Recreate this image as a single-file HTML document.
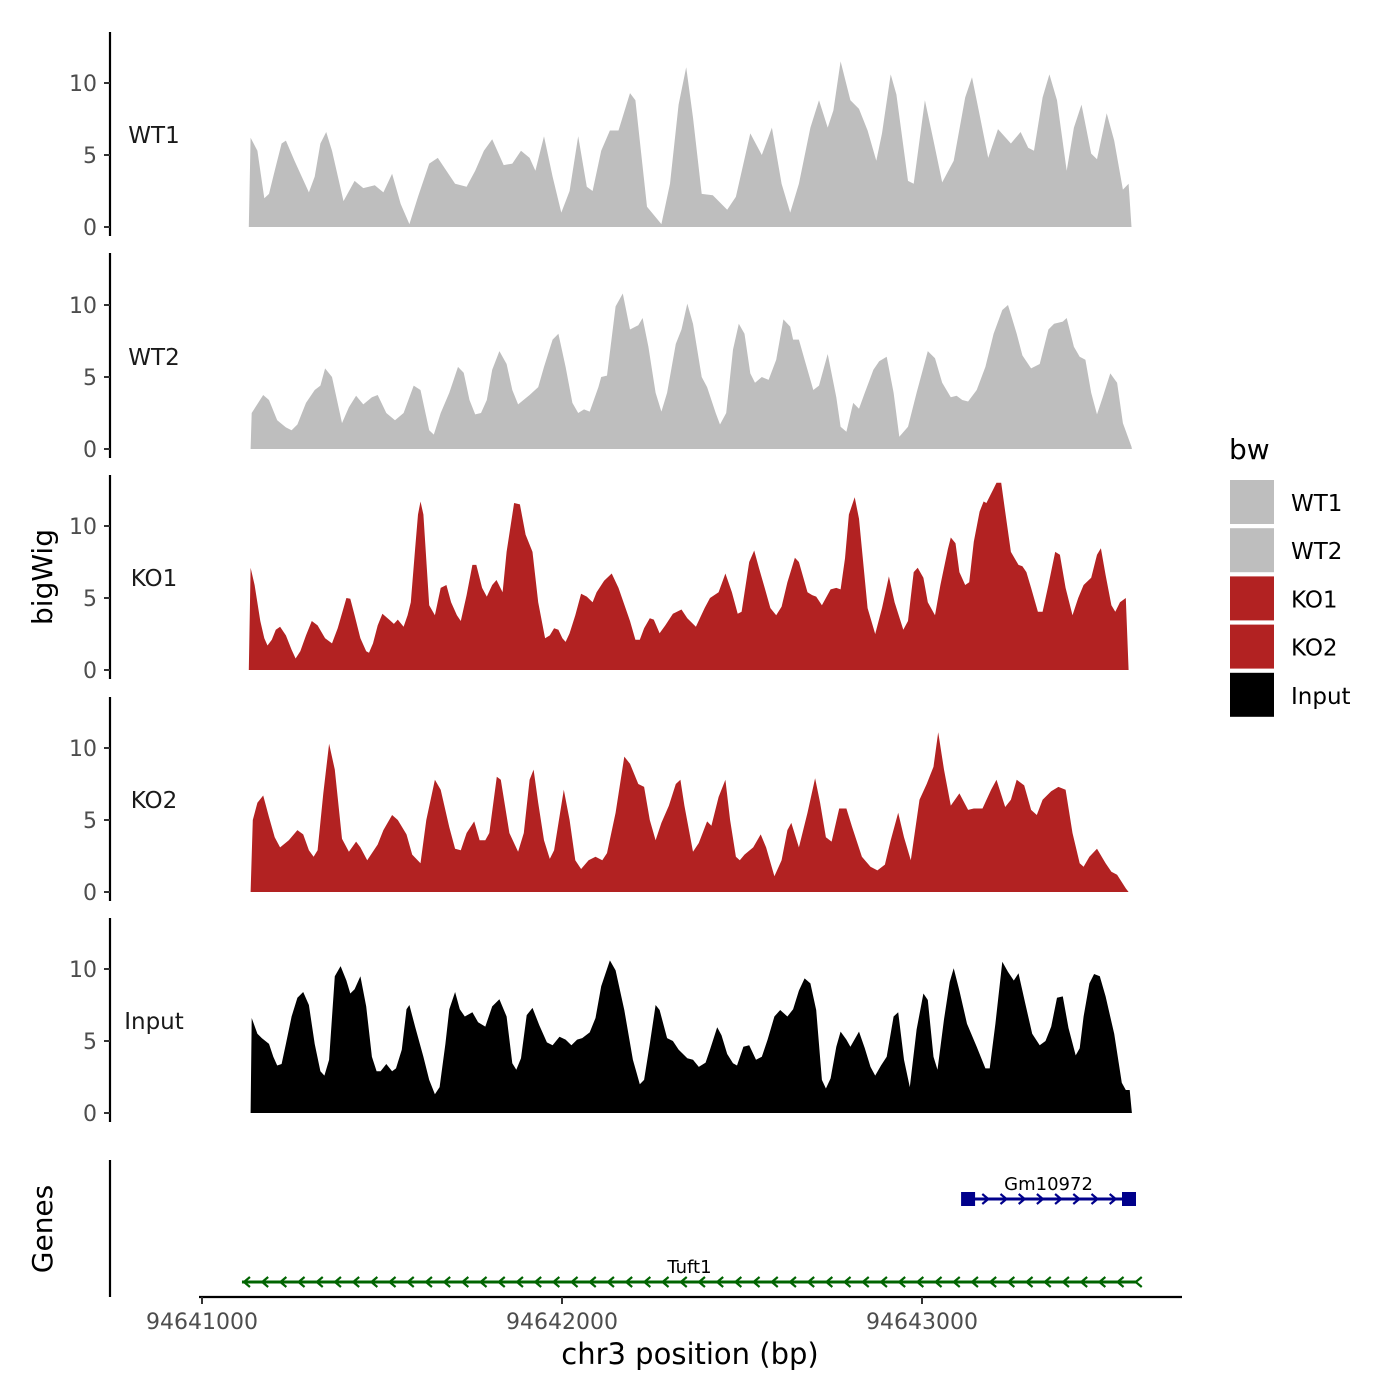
<!DOCTYPE html>
<html><head><meta charset="utf-8"><style>
html,body{margin:0;padding:0;background:#fff;}
svg{display:block;font-family:"DejaVu Sans","Liberation Sans",sans-serif;}
</style></head><body>
<svg id="chart" width="1400" height="1400" viewBox="0 0 1400 1400" xmlns="http://www.w3.org/2000/svg">
<rect width="1400" height="1400" fill="#fff"/>
<g id="tracks"></g>
<g id="genes"></g>
<g id="axes"></g>
<text x="0" y="0" transform="translate(52,577) rotate(-90)" text-anchor="middle" font-size="28" fill="#000">bigWig</text>
<text x="0" y="0" transform="translate(52,1229) rotate(-90)" text-anchor="middle" font-size="28" fill="#000">Genes</text>
<text x="690" y="1364" text-anchor="middle" font-size="29" fill="#000">chr3 position (bp)</text>
<g id="legend"></g>
</svg>
<script>
// ---- data (positions: bp offsets from 94641000) ----
const trackNames = ["WT1","WT2","KO1","KO2","Input"];
const trackColors = ["#bebebe","#bebebe","#b22222","#b22222","#000000"];
const yTicks = [0,5,10];
const xTicks = [94641000,94642000,94643000];
const xTickLabels = ["94641000","94642000","94643000"];

const wt1Pos = [130,135,154,173,186,202,221,233,257,297,313,329,345,361,393,424,448,480,504,528,552,576,600,631,655,679,703,735,759,783,806,838,862,886,910,926,950,974,998,1021,1045,1069,1085,1109,1133,1157,1189,1204,1236,1276,1300,1324,1345,1364,1388,1419,1459,1483,1523,1555,1583,1610,1634,1658,1690,1714,1738,1754,1774,1801,1825,1849,1873,1889,1913,1929,1961,1977,2008,2032,2056,2088,2120,2139,2160,2184,2211,2247,2274,2295,2311,2335,2354,2375,2402,2422,2443,2470,2486,2513,2534,2558,2574,2582];
const wt1Val = [0,6.2,5.3,2.0,2.3,3.9,5.8,6.0,4.6,2.4,3.5,5.8,6.6,5.3,1.8,3.2,2.7,2.9,2.4,3.7,1.6,0.2,2.1,4.4,4.8,3.9,3.0,2.8,3.9,5.3,6.1,4.3,4.4,5.3,4.8,3.9,6.3,3.5,1.0,2.5,6.3,2.8,2.5,5.3,6.7,6.7,9.3,8.8,1.4,0.2,3.0,8.5,11.1,7.6,2.3,2.2,1.2,2.1,6.5,5.0,6.9,3.0,1.0,3.0,6.9,8.8,6.9,8.1,11.5,8.8,8.2,6.7,4.6,6.5,10.6,9.2,3.2,3.0,8.8,6.0,3.1,4.6,9.0,10.4,7.8,4.8,6.8,5.8,6.6,5.5,5.3,9.0,10.6,8.8,3.9,6.9,8.5,5.1,4.7,7.9,6.0,2.6,3.0,0];

const wt2Pos = [135,138,170,186,209,233,249,265,289,313,329,342,361,389,408,428,448,472,488,512,536,560,588,607,631,644,663,687,711,727,743,759,775,791,806,826,846,862,878,910,934,950,974,990,1010,1029,1045,1061,1077,1101,1109,1125,1149,1169,1189,1212,1224,1240,1260,1276,1292,1316,1332,1348,1364,1388,1403,1427,1439,1456,1475,1491,1507,1523,1536,1555,1574,1595,1615,1634,1642,1658,1674,1698,1714,1738,1762,1774,1790,1809,1825,1841,1865,1881,1902,1921,1937,1961,1985,2016,2036,2056,2080,2096,2112,2128,2152,2176,2199,2223,2239,2263,2279,2303,2327,2351,2367,2391,2402,2422,2438,2454,2470,2486,2502,2523,2542,2558,2582,2583];
const wt2Val = [0,2.5,3.75,3.4,2.0,1.5,1.3,1.7,3.2,4.1,4.4,5.6,5.0,1.8,2.9,3.7,3.1,3.6,3.75,2.5,2.0,2.5,4.4,4.1,1.3,1.0,2.5,3.9,5.7,5.3,3.4,2.4,2.5,3.4,5.5,6.8,5.9,4.1,3.1,3.75,4.3,5.7,7.6,8.0,5.7,3.2,2.5,2.75,2.6,4.3,5.0,5.1,9.9,10.8,8.3,8.6,9.1,7.1,3.9,2.6,3.9,7.3,8.3,10.1,8.7,5.0,4.3,2.5,1.7,2.5,6.9,8.7,8.0,5.25,4.6,5.0,4.8,6.2,9.0,8.5,7.6,7.6,6.2,4.1,4.4,6.6,3.6,1.55,1.2,3.2,2.8,3.9,5.5,6.1,6.4,3.9,0.85,1.55,3.9,6.8,6.3,4.6,3.6,3.7,3.4,3.3,4.1,5.7,8.0,9.65,10.0,8.0,6.5,5.6,5.9,8.3,8.7,8.85,9.1,7.1,6.4,6.2,3.9,2.4,3.6,5.25,4.6,1.8,0.15,0];

const ko1Pos = [130,135,146,162,173,182,194,205,217,233,249,260,273,289,305,321,342,361,377,393,401,412,424,440,456,464,475,488,501,520,533,544,560,571,580,592,600,607,615,631,647,663,679,692,708,719,735,751,762,778,791,806,818,835,846,867,883,899,918,934,953,966,978,990,1001,1010,1021,1037,1053,1069,1085,1096,1117,1138,1157,1189,1204,1216,1228,1244,1255,1271,1287,1308,1332,1348,1372,1396,1411,1435,1454,1472,1488,1499,1520,1534,1547,1563,1579,1595,1610,1626,1647,1658,1682,1695,1706,1722,1746,1762,1774,1786,1797,1813,1825,1849,1870,1889,1908,1924,1948,1961,1977,1988,2004,2016,2036,2051,2072,2080,2093,2104,2120,2131,2144,2160,2171,2179,2199,2207,2220,2231,2247,2268,2279,2290,2303,2322,2335,2351,2370,2383,2399,2418,2434,2449,2470,2486,2497,2510,2526,2537,2550,2566,2574];
const ko1Val = [0,7.1,5.9,3.4,2.2,1.7,2.1,2.8,3.0,2.4,1.4,0.8,1.3,2.4,3.4,3.1,2.2,1.85,2.9,4.3,5.0,4.95,3.8,2.2,1.3,1.2,1.85,3.1,3.9,3.5,3.2,3.5,3.0,3.8,4.7,8.4,10.8,11.7,10.8,4.5,3.8,5.7,5.9,4.7,3.8,3.4,5.2,7.3,7.3,5.7,5.1,5.9,6.25,5.4,8.2,11.6,11.5,9.4,8.2,4.7,2.2,2.4,2.9,2.8,2.2,1.95,2.55,3.8,5.3,5.1,4.7,5.4,6.2,6.7,5.7,3.4,2.1,2.1,2.9,3.6,3.5,2.55,3.1,3.9,4.2,3.6,3.0,4.3,5.0,5.4,6.7,5.4,3.9,4.05,7.5,8.3,7.1,5.7,4.3,3.8,4.4,6.1,7.8,7.5,5.4,5.2,5.1,4.5,5.6,5.7,5.6,7.75,10.8,12.0,10.5,4.3,2.5,4.3,6.5,4.7,2.8,3.4,6.8,7.1,6.4,4.7,3.8,5.9,8.4,9.2,8.8,6.8,5.9,6.1,8.9,11.0,11.7,11.6,12.6,13.0,13.0,11.0,8.2,7.3,7.2,6.8,5.7,4.05,4.05,5.9,8.2,8.0,5.7,3.8,5.0,5.9,6.4,8.0,8.45,6.6,4.5,4.05,4.7,5.0,0];

const ko2Pos = [135,141,154,170,186,202,217,241,265,281,297,310,321,337,353,369,389,408,428,440,459,488,504,528,544,568,584,607,623,647,663,687,703,719,735,756,771,787,798,819,830,854,878,894,910,921,934,950,966,978,1005,1021,1037,1053,1074,1093,1112,1125,1149,1173,1189,1212,1228,1244,1260,1276,1297,1316,1329,1340,1364,1380,1403,1415,1435,1454,1467,1483,1494,1507,1531,1552,1567,1590,1610,1626,1637,1658,1682,1703,1717,1733,1749,1770,1790,1806,1833,1857,1876,1897,1913,1934,1950,1969,1993,2013,2032,2045,2061,2080,2104,2128,2144,2168,2192,2207,2231,2247,2263,2284,2303,2319,2335,2359,2379,2399,2418,2438,2449,2465,2486,2510,2526,2542,2566,2574];
const ko2Val = [0,5.0,6.2,6.7,5.2,3.8,3.1,3.6,4.3,4.0,2.9,2.45,2.9,6.85,10.3,8.5,3.7,2.8,3.5,3.1,2.2,3.3,4.3,5.35,5.0,4.0,2.6,2.0,5.0,7.8,7.1,4.5,3.0,2.9,4.1,4.9,3.6,3.6,4.1,8.0,7.8,4.1,2.8,4.1,7.8,8.5,6.2,3.6,2.3,2.9,7.1,5.0,2.2,1.6,2.2,2.45,2.2,2.7,5.5,9.4,8.9,7.5,7.3,5.0,3.6,4.8,6.0,7.5,7.8,6.0,2.8,3.4,4.9,4.6,6.6,7.8,5.0,2.45,2.2,2.6,3.1,4.0,3.1,1.1,2.2,4.3,4.8,3.1,5.5,7.9,6.2,3.8,3.5,5.8,5.8,4.5,2.45,1.75,1.5,1.9,3.6,5.5,3.8,2.2,6.4,7.5,8.7,11.1,8.5,6.0,6.85,5.7,5.8,5.8,7.1,7.8,5.9,6.4,7.8,7.4,5.7,5.35,6.4,7.0,7.3,7.1,4.1,2.0,1.75,2.45,3.0,2.0,1.4,1.2,0.25,0];

const inputPos = [135,138,154,166,186,198,209,221,233,249,265,281,297,313,329,340,353,369,385,401,412,424,440,456,472,485,496,512,528,539,555,568,576,592,615,631,647,660,676,687,703,716,730,751,767,787,806,826,846,862,873,886,902,918,937,958,974,993,1010,1026,1042,1056,1077,1093,1109,1133,1149,1173,1197,1216,1228,1244,1260,1271,1292,1308,1324,1348,1364,1380,1399,1411,1431,1443,1459,1475,1486,1504,1520,1539,1555,1571,1590,1606,1626,1642,1658,1674,1690,1706,1722,1733,1746,1762,1774,1790,1801,1825,1841,1857,1870,1886,1902,1921,1934,1950,1966,1985,2004,2016,2032,2043,2061,2077,2088,2104,2125,2152,2176,2188,2204,2223,2239,2255,2268,2287,2306,2327,2343,2359,2375,2391,2407,2427,2438,2449,2465,2478,2494,2510,2534,2555,2566,2577,2583];
const inputVal = [0,6.6,5.5,5.2,4.8,3.9,3.3,3.4,4.8,6.7,8.0,8.4,7.5,4.8,2.9,2.6,3.7,9.5,10.2,9.2,8.3,8.6,9.5,7.4,3.9,2.9,2.9,3.4,2.9,3.1,4.4,7.2,7.5,6.0,3.9,2.3,1.3,1.8,4.8,7.2,8.4,7.2,6.7,7.0,6.3,6.0,7.4,7.9,6.7,3.45,3.0,3.8,6.8,7.3,6.1,4.9,4.7,5.3,5.1,4.7,5.1,5.2,5.6,6.6,8.8,10.6,9.9,7.15,3.7,2.0,2.3,4.8,7.5,7.15,5.2,5.0,4.4,3.8,3.7,3.2,3.5,4.4,5.95,5.4,4.1,3.45,3.3,4.6,4.7,3.7,3.9,5.1,6.7,7.15,6.7,7.2,8.5,9.35,9.0,7.15,2.3,1.7,2.4,4.6,5.65,5.1,4.6,5.65,4.5,3.2,2.6,3.3,3.9,6.7,7.0,3.7,1.8,5.8,8.3,7.85,3.9,3.0,6.5,9.1,10.05,8.5,6.2,4.6,3.1,3.1,6.2,10.5,9.8,9.2,9.7,7.6,5.5,4.7,5.0,6.0,8.0,8.1,5.9,4.0,4.5,6.7,9.0,9.65,9.5,8.1,5.5,2.1,1.6,1.6,0];

const trackPos = [wt1Pos,wt2Pos,ko1Pos,ko2Pos,inputPos];
const trackVal = [wt1Val,wt2Val,ko1Val,ko2Val,inputVal];

// genes (bp)
const geneNames = ["Gm10972","Tuft1"];
const geneStart = [94643128,94641111];
const geneEnd = [94643575,94643597];
const geneStrand = ["+","-"];

// ---- scales ----
const NS = "http://www.w3.org/2000/svg";
const X0 = 94641000;
function xs(bp){ return 202 + (bp - X0) * 0.36; }
function xo(off){ return xs(X0 + off); }
const zeroY = [227,449,670,892,1113];
const panelTop = [32,253,475,697,918];
const PXU = 14.4;
function ys(i,v){ return zeroY[i] - v * PXU; }
function mk(tag, attrs, parent){
  const e = document.createElementNS(NS, tag);
  for (const k in attrs) e.setAttribute(k, attrs[k]);
  parent.appendChild(e); return e;
}
const gT = document.getElementById('tracks');
const gA = document.getElementById('axes');
const gG = document.getElementById('genes');
const gL = document.getElementById('legend');

trackNames.forEach((nm, i) => {
  const P = trackPos[i], V = trackVal[i];
  let d = "M" + xo(P[0]).toFixed(1) + "," + zeroY[i];
  for (let k = 0; k < P.length; k++) d += "L" + xo(P[k]).toFixed(1) + "," + ys(i, V[k]).toFixed(1);
  d += "L" + xo(P[P.length-1]).toFixed(1) + "," + zeroY[i] + "Z";
  const p = mk('path', {d: d, fill: trackColors[i], stroke: 'none'}, gT);
  
  
  const ax = mk('line', {x1:110, x2:110, y1:panelTop[i], y2:zeroY[i]+9, stroke:'#000', 'stroke-width':2.2}, gA);
  
  
  yTicks.forEach(t => {
    const y = ys(i, t);
    const tk = mk('line', {x1:104, x2:110, y1:y, y2:y, stroke:'#333', 'stroke-width':2}, gA);
    
    
    const tl = mk('text', {x:97, y:y+8, 'text-anchor':'end', 'font-size':22, fill:'#4d4d4d'}, gA);
    tl.textContent = String(t);
    
    
  });
  const lab = mk('text', {x:154, y:zeroY[i]-84, 'text-anchor':'middle', 'font-size':23, fill:'#1a1a1a'}, gA);
  lab.textContent = nm;
  
  
});

const gax = mk('line', {x1:110, x2:110, y1:1160, y2:1297, stroke:'#000', 'stroke-width':2.2}, gA);


const xax = mk('line', {x1:199, x2:1182, y1:1297, y2:1297, stroke:'#000', 'stroke-width':2.2}, gA);


xTicks.forEach((t, k) => {
  const x = xs(t);
  const tk = mk('line', {x1:x, x2:x, y1:1297, y2:1304, stroke:'#333', 'stroke-width':2}, gA);
  
  
  const tl = mk('text', {x:x, y:1329, 'text-anchor':'middle', 'font-size':22, fill:'#4d4d4d'}, gA);
  tl.textContent = xTickLabels[k];
  
  
});

const geneY = [1199, 1282];
const geneCol = ["#00008b", "#006400"];
geneNames.forEach((nm, g) => {
  const x1 = xs(geneStart[g]), x2 = xs(geneEnd[g]), y = geneY[g], c = geneCol[g];
  const grp = mk('g', {}, gG);
  
  
  mk('line', {x1: x1 - (g===0?6:0), x2: x2 + (g===0?7:0), y1:y, y2:y, stroke:c, 'stroke-width':3}, grp);
  const step = 18.2;
  for (let x = x1 + (g===0?0:4); x <= x2 + 1; x += step) {
    const dir = geneStrand[g] === "+" ? 1 : -1;
    mk('path', {d:`M${x - 4*dir},${y-5}L${x+2*dir},${y}L${x - 4*dir},${y+5}`, fill:'none', stroke:c, 'stroke-width':2.2}, grp);
  }
  if (g === 0) {
    mk('rect', {x:x1-7, y:y-7, width:14, height:14, fill:c}, grp);
    mk('rect', {x:x2-7, y:y-7, width:14, height:14, fill:c}, grp);
  }
  const t = mk('text', {x:(x1+x2)/2, y:y-9, 'text-anchor':'middle', 'font-size':18, fill:'#000'}, gG);
  t.textContent = nm;
  
  
});

const lt = mk('text', {x:1229, y:459, 'font-size':28, fill:'#000'}, gL);
lt.textContent = "bw";


trackNames.forEach((nm, i) => {
  const y = 480 + i * 48.2;
  const r = mk('rect', {x:1230, y:y, width:44, height:44, fill:trackColors[i]}, gL);
  
  
  const t = mk('text', {x:1291, y:y+31, 'font-size':23, fill:'#000'}, gL);
  t.textContent = nm;
  
  
});
</script>
</body></html>
